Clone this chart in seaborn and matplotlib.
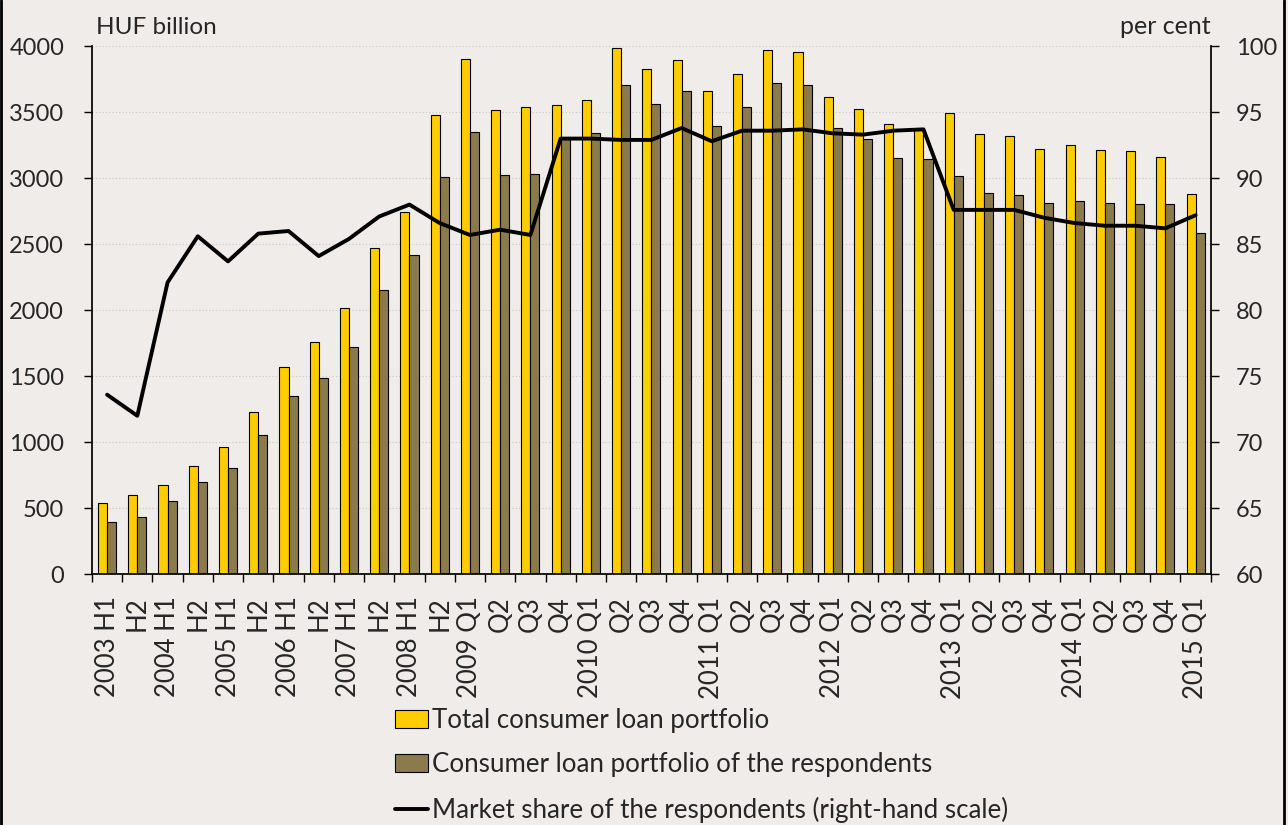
import matplotlib
matplotlib.use("Agg")
import matplotlib.pyplot as plt
from matplotlib.lines import Line2D
import numpy as np
import pandas as pd
import seaborn as sns

# periods (unique keys) and the labels shown under the axis
periods = ["2003 H1", "2003 H2", "2004 H1", "2004 H2", "2005 H1", "2005 H2",
           "2006 H1", "2006 H2", "2007 H1", "2007 H2", "2008 H1", "2008 H2",
           "2009 Q1", "2009 Q2", "2009 Q3", "2009 Q4",
           "2010 Q1", "2010 Q2", "2010 Q3", "2010 Q4",
           "2011 Q1", "2011 Q2", "2011 Q3", "2011 Q4",
           "2012 Q1", "2012 Q2", "2012 Q3", "2012 Q4",
           "2013 Q1", "2013 Q2", "2013 Q3", "2013 Q4",
           "2014 Q1", "2014 Q2", "2014 Q3", "2014 Q4",
           "2015 Q1"]
tick_labels = ["2003 H1", "H2", "2004 H1", "H2", "2005 H1", "H2",
               "2006 H1", "H2", "2007 H1", "H2", "2008 H1", "H2",
               "2009 Q1", "Q2", "Q3", "Q4",
               "2010 Q1", "Q2", "Q3", "Q4",
               "2011 Q1", "Q2", "Q3", "Q4",
               "2012 Q1", "Q2", "Q3", "Q4",
               "2013 Q1", "Q2", "Q3", "Q4",
               "2014 Q1", "Q2", "Q3", "Q4",
               "2015 Q1"]

# HUF billion
total = [540, 603, 672, 818, 961, 1227, 1573, 1761, 2019, 2470, 2745, 3477,
         3903, 3517, 3537, 3557, 3594, 3989, 3828, 3897, 3657, 3786, 3974, 3954,
         3617, 3528, 3414, 3371, 3494, 3334, 3317, 3222, 3251, 3214, 3205, 3159,
         2882]
respondents = [395, 435, 552, 700, 806, 1055, 1352, 1484, 1724, 2150, 2416, 3011,
               3348, 3028, 3034, 3294, 3345, 3703, 3563, 3660, 3394, 3542, 3720, 3705,
               3380, 3294, 3151, 3142, 3019, 2891, 2873, 2813, 2831, 2811, 2805, 2802,
               2588]
# per cent
share = [73.6, 72.0, 82.1, 85.6, 83.7, 85.8, 86.0, 84.1, 85.4, 87.1, 88.0, 86.6,
         85.7, 86.1, 85.7, 93.0, 93.0, 92.9, 92.9, 93.8, 92.8, 93.6, 93.6, 93.7,
         93.4, 93.3, 93.6, 93.7, 87.6, 87.6, 87.6, 87.0, 86.6, 86.4, 86.4, 86.2,
         87.2]

series_names = ["Total consumer loan portfolio",
                "Consumer loan portfolio of the respondents"]
line_name = "Market share of the respondents (right-hand scale)"

df = pd.DataFrame({"period": periods, series_names[0]: total,
                   series_names[1]: respondents})
long_df = df.melt(id_vars="period", var_name="series", value_name="value")

bg = "#EFECE9"
sns.set_theme(style="white")
plt.rcParams["font.family"] = ["Lato", "DejaVu Sans"]
plt.rcParams["axes.edgecolor"] = "black"

fig = plt.figure(figsize=(12.88, 8.25), dpi=100, facecolor=bg)
ax = fig.add_axes([0.0714, 0.304, 0.8686, 0.640])
ax.set_facecolor(bg)

sns.barplot(data=long_df, x="period", y="value", hue="series", order=periods,
            hue_order=series_names, palette=["#FFCC00", "#8B7B4C"],
            width=0.6, gap=0, saturation=1, edgecolor="black", linewidth=0.8,
            ax=ax)

ax2 = ax.twinx()
sns.lineplot(x=np.arange(len(periods)), y=share, color="black", linewidth=2.8,
             label=line_name, ax=ax2)

ax.set_xlim(-0.5, len(periods) - 0.5)
ax.set_ylim(0, 4000)
ax.set_yticks(range(0, 4001, 500))
ax2.set_ylim(60, 100)
ax2.set_yticks(range(60, 101, 5))

ax.set_xlabel("")
ax.set_ylabel("")
ax2.set_ylabel("")

# labels centred on the categories, tick marks on the boundaries
ax.set_xticks(np.arange(len(periods)))
ax.set_xticklabels(tick_labels, rotation=90, fontsize=18.5)
ax.set_xticks(np.arange(len(periods) + 1) - 0.5, minor=True)
ax.tick_params(axis="x", which="major", length=0, pad=16)
ax.tick_params(axis="x", which="minor", length=6, width=1, direction="out",
               color="black", bottom=True)
ax.tick_params(axis="y", length=6, width=1, direction="out", color="black",
               left=True, labelsize=17, pad=14)
ax2.tick_params(axis="y", length=6, width=1, direction="out", color="black",
                right=True, labelsize=17, pad=12)

ax.yaxis.grid(True, linestyle=(0, (1, 2)), color="#C9C7C4", linewidth=0.8)
ax.set_axisbelow(True)

for a in (ax, ax2):
    a.spines["top"].set_visible(False)
ax.spines["right"].set_visible(False)
ax2.spines["left"].set_visible(False)
ax2.spines["bottom"].set_visible(False)
ax2.spines["right"].set_color("black")
ax.spines["left"].set_color("black")
ax.spines["bottom"].set_color("black")

ax.text(0.004, 1.015, "HUF billion", transform=ax.transAxes, fontsize=17.5,
        ha="left", va="bottom")
ax2.text(1.0, 1.015, "per cent", transform=ax2.transAxes, fontsize=18,
         ha="right", va="bottom")

h1, l1 = ax.get_legend_handles_labels()
h2, l2 = ax2.get_legend_handles_labels()
ax.get_legend().remove()
ax2.get_legend().remove()
fig.legend(h1 + h2, l1 + l2, loc="upper left", bbox_to_anchor=(0.3067, 0.142),
           frameon=False, fontsize=18.6, handlelength=1.28, handleheight=0.7,
           handletextpad=0.15, labelspacing=0.76, borderpad=0, borderaxespad=0)

fig.add_artist(Line2D([0.001, 0.001], [0, 1], transform=fig.transFigure,
                      color="black", linewidth=2))
fig.add_artist(Line2D([0.997, 0.997], [0, 1], transform=fig.transFigure,
                      color="black", linewidth=2))

fig.savefig("out.png", dpi=100, facecolor=bg)
